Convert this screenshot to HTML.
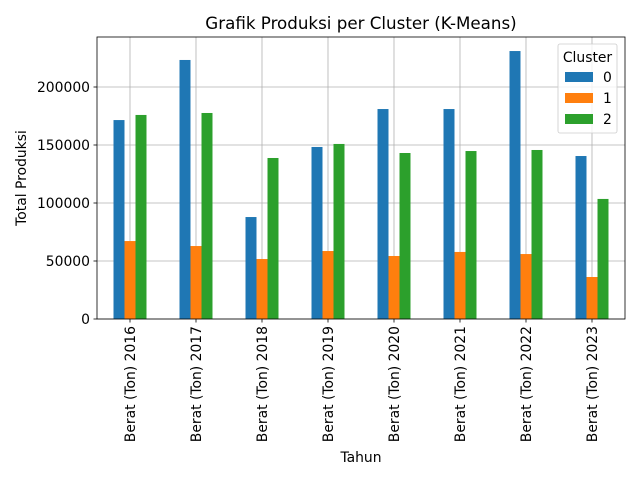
<!DOCTYPE html>
<html><head><meta charset="utf-8"><style>
body{margin:0;background:#fff;}
svg text{font-family:"DejaVu Sans","Liberation Sans",sans-serif;fill:#000;}
</style></head><body>
<svg id="chart" width="640" height="480" xmlns="http://www.w3.org/2000/svg"></svg>
<script>
const categories=["Berat (Ton) 2016","Berat (Ton) 2017","Berat (Ton) 2018","Berat (Ton) 2019","Berat (Ton) 2020","Berat (Ton) 2021","Berat (Ton) 2022","Berat (Ton) 2023"];
const cluster0=[171500,223300,87900,148300,181000,181000,231000,140500];
const cluster1=[67200,62900,51700,58600,54300,57800,56000,36200];
const cluster2=[175900,177600,138800,150900,143100,144800,145700,103500];
const yTicks=[0,50000,100000,150000,200000];
const seriesNames=["0","1","2"];
const colors=["#1f77b4","#ff7f0e","#2ca02c"];
const series=[cluster0,cluster1,cluster2];

const NS="http://www.w3.org/2000/svg";
const svg=document.getElementById('chart');
const L=97,R=625,T=37,B=319;
const n=categories.length;
const step=(R-L)/n;
const x=i=>L+step*(i+0.5);
const y=v=>B-v/50000*58;
const FS=13.9;
function el(tag,attrs,parent){const e=document.createElementNS(NS,tag);for(const k in attrs)e.setAttribute(k,attrs[k]);(parent||svg).appendChild(e);return e;}

yTicks.forEach(t=>{
  const g=el('line',{x1:L,x2:R,y1:y(t),y2:y(t),stroke:'#b0b0b0','stroke-width':0.8});
  
  
});
categories.forEach((c,i)=>{
  const g=el('line',{x1:x(i),x2:x(i),y1:T,y2:B,stroke:'#b0b0b0','stroke-width':0.8});
  
  
});
const bw=step*0.5/3;
series.forEach((s,si)=>{
  s.forEach((v,i)=>{
    const bx=x(i)-1.5*bw+si*bw;
    const r=el('rect',{x:bx,y:y(v),width:bw,height:B-y(v),fill:colors[si]});
    
    
  });
});
const fr=el('rect',{x:L,y:T,width:R-L,height:B-T,fill:'none',stroke:'#000','stroke-width':0.8});


yTicks.forEach(t=>{
  el('line',{x1:L-3.5,x2:L,y1:y(t),y2:y(t),stroke:'#000','stroke-width':0.8});
  const tx=el('text',{x:L-7,y:y(t)+5,'text-anchor':'end','font-size':FS});
  tx.textContent=t;
  
  
});
categories.forEach((c,i)=>{
  el('line',{x1:x(i),x2:x(i),y1:B,y2:B+3.5,stroke:'#000','stroke-width':0.8});
  const tx=el('text',{x:0,y:0,'text-anchor':'end','font-size':FS,transform:`translate(${x(i)+5},${B+7}) rotate(-90)`});
  tx.textContent=c;
  
  
});
let t=el('text',{x:361,y:29,'text-anchor':'middle','font-size':16.7});
t.textContent='Grafik Produksi per Cluster (K-Means)';


t=el('text',{x:361,y:462,'text-anchor':'middle','font-size':FS});
t.textContent='Tahun';


t=el('text',{x:0,y:0,'text-anchor':'middle','font-size':FS,transform:'translate(26,178) rotate(-90)'});
t.textContent='Total Produksi';


const lg=el('g',{});


el('rect',{x:558,y:44,width:59,height:89,rx:2,fill:'#fff','fill-opacity':0.8,stroke:'#ccc','stroke-width':0.8},lg);
t=el('text',{x:587.5,y:62,'text-anchor':'middle','font-size':FS},lg);
t.textContent='Cluster';


seriesNames.forEach((nm,si)=>{
  const yy=72+si*21;
  const p=el('rect',{x:565,y:yy,width:28,height:10,fill:colors[si]},lg);
  
  
  const tx=el('text',{x:603,y:yy+10,'font-size':FS},lg);
  tx.textContent=nm;
  
  
});
</script>
</body></html>
